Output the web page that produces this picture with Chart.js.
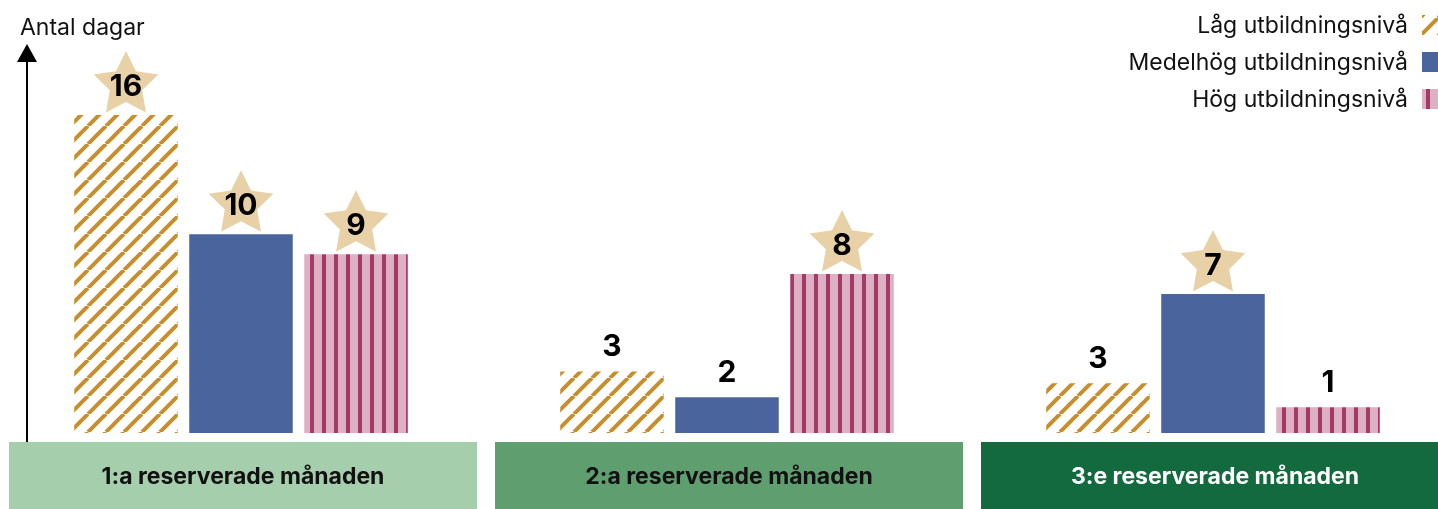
<!DOCTYPE html>
<html>
<head>
<meta charset="utf-8">
<script src="https://cdn.jsdelivr.net/npm/chart.js@4"></script>
<style>
  html, body { margin: 0; padding: 0; background: #fff; overflow: hidden; }
  #wrap { position: absolute; left: -2px; top: 0; width: 1458px; height: 509px; }
</style>
</head>
<body>
<div id="wrap"><canvas id="myChart"></canvas></div>
<script>
const categories = ['1:a reserverade månaden', '2:a reserverade månaden', '3:e reserverade månaden'];
const seriesNames = ['Låg utbildningsnivå', 'Medelhög utbildningsnivå', 'Hög utbildningsnivå'];
const lowValues = [16, 3.1, 2.5];
const midValues = [10, 1.8, 7];
const highValues = [9, 8, 1.3];
const lowStars = [true, false, false];
const midStars = [true, false, true];
const highStars = [true, true, false];
const yAxisTitle = 'Antal dagar';
const yMax = 20;

const bandColors = ['#A5CFAC', '#5F9E6E', '#136A3F'];
const bandTextColors = ['#111', '#111', '#fff'];
const starColor = '#E8D1A7';

document.addEventListener("DOMContentLoaded", function() {
    const ctx = document.getElementById('myChart').getContext('2d');

    // hatch fills
    function diagonalPattern() {
        const c = document.createElement('canvas');
        c.width = 18; c.height = 18;
        const g = c.getContext('2d');
        g.strokeStyle = '#C68F2B';
        g.lineWidth = 4;
        [-18, 0, 18].forEach(function(o) {
            g.beginPath();
            g.moveTo(o, 18);
            g.lineTo(o + 18, 0);
            g.stroke();
        });
        return ctx.createPattern(c, 'repeat');
    }
    function verticalPattern() {
        const c = document.createElement('canvas');
        c.width = 12; c.height = 12;
        const g = c.getContext('2d');
        g.fillStyle = '#DDB0C3';
        g.fillRect(0, 0, 12, 12);
        g.fillStyle = '#A63A66';
        g.fillRect(0, 0, 4, 12);
        return ctx.createPattern(c, 'repeat');
    }

    function drawStar(g, cx, cy, R, r) {
        g.beginPath();
        for (let i = 0; i < 10; i++) {
            const rad = i % 2 === 0 ? R : r;
            const a = -Math.PI / 2 + i * Math.PI / 5;
            const px = cx + rad * Math.cos(a), py = cy + rad * Math.sin(a);
            if (i === 0) g.moveTo(px, py); else g.lineTo(px, py);
        }
        g.closePath();
        g.fill();
    }

    const decorations = {
        id: 'decorations',
        afterDatasetsDraw(chart) {
            const g = chart.ctx;
            g.save();
            chart.data.datasets.forEach(function(ds, di) {
                const meta = chart.getDatasetMeta(di);
                meta.data.forEach(function(bar, i) {
                    let cy = bar.y - 30;
                    if (ds.stars[i]) {
                        g.fillStyle = starColor;
                        drawStar(g, bar.x, cy, 34, 17);
                    } else {
                        cy = bar.y - 26;
                    }
                    g.fillStyle = '#000';
                    g.font = '700 30px Inter';
                    g.textAlign = 'center';
                    g.textBaseline = 'middle';
                    g.fillText(String(Math.round(ds.data[i])), bar.x, cy + 2);
                });
            });
            g.restore();
        },
        afterDraw(chart) {
            const g = chart.ctx;
            const x = chart.scales.x;
            const area = chart.chartArea;
            g.save();

            // y axis arrow + title
            const ax = 29;
            g.strokeStyle = '#000';
            g.lineWidth = 2;
            g.beginPath();
            g.moveTo(ax, 58);
            g.lineTo(ax, area.bottom + 9);
            g.stroke();
            g.fillStyle = '#000';
            g.beginPath();
            g.moveTo(ax, 44);
            g.lineTo(ax - 10, 62);
            g.lineTo(ax + 10, 62);
            g.closePath();
            g.fill();
            g.font = '23px Inter';
            g.textAlign = 'left';
            g.textBaseline = 'middle';
            g.fillStyle = '#111';
            g.fillText(yAxisTitle, 22, 28);

            // category bands
            const bandTop = area.bottom + 9;
            chart.data.labels.forEach(function(lab, i) {
                const cx = x.getPixelForTick(i);
                g.fillStyle = bandColors[i];
                g.fillRect(cx - 232, bandTop, 468, chart.height - bandTop);
                g.fillStyle = bandTextColors[i];
                g.font = '700 23px Inter';
                g.textAlign = 'center';
                g.fillText(lab, cx + 2, bandTop + (chart.height - bandTop) / 2 + 2);
            });

            // legend, swatch on the right
            const textRight = 1410, sw = 20, swX = 1424;
            const rows = [25, 62, 99];
            chart.data.datasets.forEach(function(ds, di) {
                g.fillStyle = '#111';
                g.font = '23px Inter';
                g.textAlign = 'right';
                g.fillText(ds.label, textRight, rows[di] + 1);
                g.fillStyle = ds.backgroundColor;
                g.fillRect(swX, rows[di] - sw / 2, sw, sw);
            });
            g.restore();
        }
    };

    const data = {
        labels: categories,
        datasets: [
            { label: seriesNames[0], data: lowValues, stars: lowStars, backgroundColor: diagonalPattern() },
            { label: seriesNames[1], data: midValues, stars: midStars, backgroundColor: '#4A659E' },
            { label: seriesNames[2], data: highValues, stars: highStars, backgroundColor: verticalPattern() }
        ]
    };

    const myChart = new Chart(ctx, {
        type: 'bar',
        data: data,
        options: {
            responsive: true,
            maintainAspectRatio: false,
            animation: false,
            categoryPercentage: 0.71,
            barPercentage: 0.9,
            layout: { padding: { left: 0, right: 0, top: 35.5, bottom: 76 } },
            plugins: { legend: { display: false }, tooltip: { enabled: false } },
            scales: {
                x: { display: false },
                y: { display: false, min: 0, max: yMax }
            }
        },
        plugins: [decorations]
    });
});
</script>
</body>
</html>
